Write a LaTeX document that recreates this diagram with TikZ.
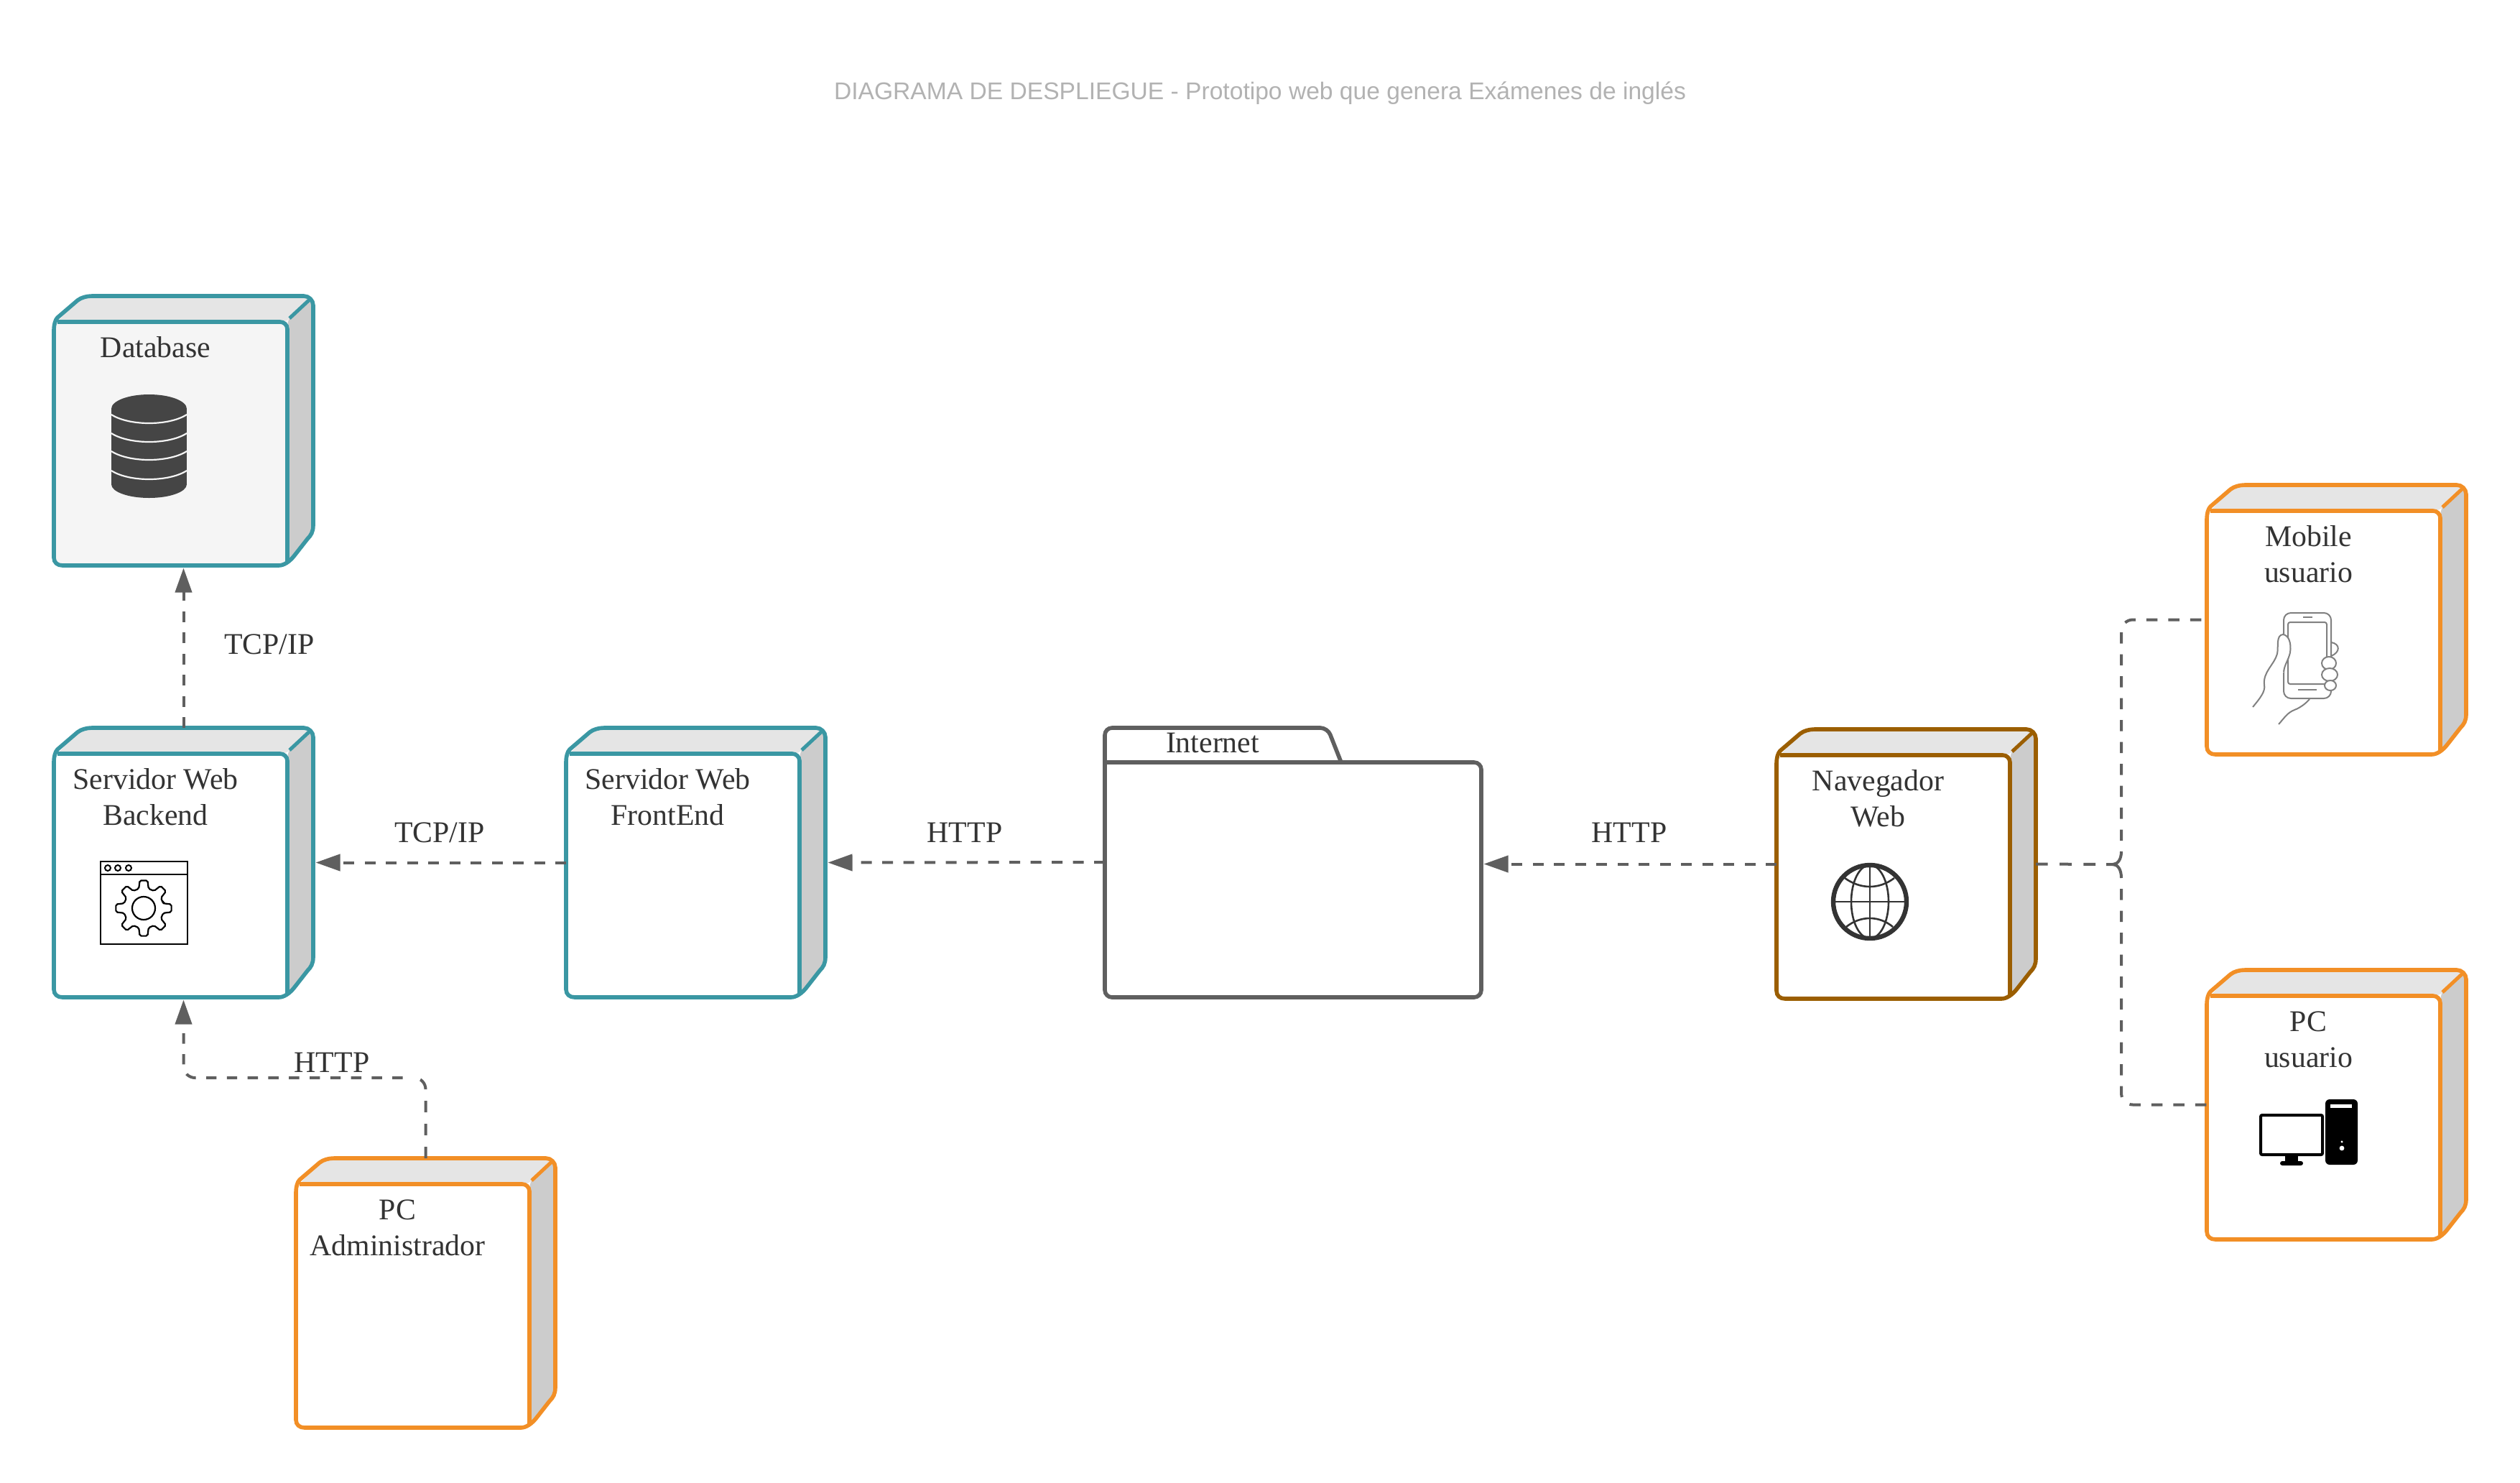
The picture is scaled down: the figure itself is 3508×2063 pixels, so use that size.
\documentclass[tikz,border=0pt]{standalone}
\usepackage{fontspec}
\setmainfont{Liberation Serif}
\newfontfamily\titlefont{Liberation Sans}
\usetikzlibrary{arrows.meta}
\definecolor{tealline}{HTML}{3A97A3}
\definecolor{orangeline}{HTML}{F28F26}
\definecolor{brownline}{HTML}{9B5E00}
\definecolor{greyline}{HTML}{5F5F5F}
\tikzset{
  boxframe/.style={minimum width=180.5pt,minimum height=187.5pt,inner sep=0,outer sep=0},
  boxtext/.style={anchor=north,align=center,inner sep=0,text=black!80,font=\fontsize{20.9}{25}\selectfont},
  linktext/.style={anchor=base,inner sep=0,text=black!80,font=\fontsize{20.9}{25}\selectfont},
  link/.style={draw=greyline,line width=2pt,dash pattern=on 7.5pt off 7.25pt},
  arrowlink/.style={link,-{Triangle[length=17pt,width=11.5pt]},shorten >=1.75pt},
  forklink/.style={draw=greyline,line width=2pt,dash pattern=on 8.3pt off 8.3pt},
  branchlink/.style={draw=greyline,line width=2pt,dash pattern=on 7.75pt off 7.5pt,dash phase=7.75pt,rounded corners=8pt},
}
% left, top of the whole box in pixels
\newcommand\cubebox[6]{%
  \begin{scope}[shift={(#2,#3)}]
    \node[boxframe] (#1) at (180.5,187.5) {};
    \path[fill=#5] (0,47) .. controls (0,40) and (2,33) .. (5,30) -- (33,6)
      .. controls (38,2) and (46,0) .. (53,0) -- (348,0)
      .. controls (355,0) and (361,6) .. (361,13) -- (361,319)
      .. controls (361,328) and (358,333) .. (353,338) -- (335,361)
      .. controls (328,370) and (320,375) .. (313,375) -- (12,375)
      .. controls (5,375) and (0,371) .. (0,364) -- cycle;
    \path[fill=black!10] (5,36) -- (33,6) .. controls (38,2) and (46,0) .. (53,0) -- (348,0)
      .. controls (352,0) and (355,2) .. (357,4) -- (328,31) .. controls (324,35) and (320,36) .. (315,36) -- cycle;
    \path[fill=black!20] (357,4) .. controls (360,6) and (361,9) .. (361,13) -- (361,319)
      .. controls (361,328) and (358,333) .. (353,338) -- (335,361)
      .. controls (332,365) and (329,368) .. (325,371) -- (325,46)
      .. controls (325,40) and (326,34) .. (328,31) -- cycle;
    \draw[#4,line width=2.8pt] (0,47) .. controls (0,40) and (2,33) .. (5,30) -- (33,6)
      .. controls (38,2) and (46,0) .. (53,0) -- (348,0)
      .. controls (355,0) and (361,6) .. (361,13) -- (361,319)
      .. controls (361,328) and (358,333) .. (353,338) -- (335,361)
      .. controls (328,370) and (320,375) .. (313,375) -- (12,375)
      .. controls (5,375) and (0,371) .. (0,364) -- cycle;
    \draw[#4,line width=2.8pt] (5,36) -- (315,36) .. controls (320,36) and (325,40) .. (325,46) -- (325,371);
    \draw[#4,line width=2.5pt] (328,31) -- (357,4);
    \node[boxtext] (#1text) at (141.5,50.5) {\strut #6};
  \end{scope}
}

\begin{document}
\begin{tikzpicture}[x=0.5pt,y=-0.5pt]
  \useasboundingbox[fill=white] (0,0) rectangle (3508,2063);

  \node[text=black!30,inner sep=0,font=\titlefont\fontsize{16.8}{20}\selectfont] (title) at (1754,130)
    {DIAGRAMA DE DESPLIEGUE - Prototipo web que genera Exámenes de inglés};

  % The boxes
  \cubebox{database}{75}{412}{tealline}{black!4}{Database};
  \cubebox{backend}{75}{1013}{tealline}{white}{Servidor Web\\Backend};
  \cubebox{frontend}{788}{1013}{tealline}{white}{Servidor Web\\FrontEnd};
  \cubebox{pcadmin}{412}{1612}{orangeline}{white}{PC\\Administrador};
  \cubebox{navweb}{2473}{1015}{brownline}{white}{Navegador\\Web};
  \cubebox{mobile}{3072}{675}{orangeline}{white}{Mobile\\usuario};
  \cubebox{pcuser}{3072}{1350}{orangeline}{white}{PC\\usuario};

  % The folder
  \node[minimum width=262pt,minimum height=188pt,inner sep=0,outer sep=0] (internet) at (1800,1200) {};
  \draw[greyline,line width=2.8pt,rounded corners=5pt] (1538,1061) -- (1538,1013) -- (1848,1013) -- (1867,1061);
  \draw[greyline,line width=2.8pt,rounded corners=5pt] (1538,1061) -- (2062,1061) -- (2062,1388) -- (1538,1388) -- (1538,1061);
  \node[linktext] (internettext) at (1688,1047) {Internet};

  % The connectors
  \draw[arrowlink] (backend.north) -- (database.south);
  \draw[arrowlink] (frontend.west) -- (backend.east);
  \draw[arrowlink] (internet.west) -- (frontend.east);
  \draw[arrowlink] (navweb.west) -- (internet.east |- navweb.west);
  \coordinate (adminbend) at (575,1500);
  \draw[link,dash pattern=on 8pt off 8pt,rounded corners=8pt] (pcadmin.north) |- (adminbend);
  \draw[arrowlink,dash pattern=on 7.2pt off 7.2pt,dash phase=7.2pt,rounded corners=8pt] (adminbend) -| (backend.south);

  % The fork to the two user boxes
  \coordinate (forkin) at (2932,1203);
  \coordinate (forkup) at (2953,1185);
  \coordinate (forkdown) at (2953,1222);
  \draw[forklink] (navweb.east) -- (forkin);
  \draw[greyline,line width=2pt] (forkup) .. controls (2953,1196) and (2948,1203) .. (2941,1203) -- (forkin);
  \draw[greyline,line width=2pt] (forkdown) .. controls (2953,1210) and (2948,1203) .. (2941,1203);
  \draw[branchlink] (forkup) |- (mobile.west);
  \draw[branchlink] (forkdown) |- (pcuser.west);

  \node[linktext] (tcpdb) at (375,910) {TCP/IP};
  \node[linktext] (tcpback) at (612,1172) {TCP/IP};
  \node[linktext] (httpfront) at (1343,1172) {HTTP};
  \node[linktext] (httpnet) at (2268,1172) {HTTP};
  \node[linktext] (httpadmin) at (462,1492) {HTTP};

  % Database icon
  \fill[black!73] (155,568) rectangle (260,674);
  \fill[black!73] (207.5,569) ellipse[x radius=52.5,y radius=20];
  \fill[black!73] (207.5,674) ellipse[x radius=52.5,y radius=19];
  \foreach \ypos in {577,603,628,655} {
    \draw[black!4,line width=1.1pt] (155,\ypos) .. controls +(25,16) and +(-25,16) .. (260,\ypos);
  }

  % Gear window icon
  \draw[black,line width=1.3pt] (140,1199) rectangle (261,1314) (140,1217) -- (261,1217);
  \foreach \xpos in {150,164,179} {
    \draw[black,line width=1pt] (\xpos,1208) circle[radius=4];
  }
  \begin{scope}[shift={(200,1264)}]
    \draw[black,line width=1.1pt,rounded corners=1pt] (-14:28) \foreach \a in {0,45,...,315} { -- (\a-14:28) -- (\a-8:39) -- (\a+8:39) -- (\a+14:28)} -- cycle;
    \draw[black,line width=1.1pt] (0,0) circle[radius=16];
  \end{scope}

  % Globe icon
  \begin{scope}[black!80,line width=1.3pt]
    \draw[line width=3.2pt] (2603,1255) circle[radius=51];
    \draw (2603,1204) -- (2603,1306) (2552,1255) -- (2654,1255);
    \draw (2603,1255) ellipse[x radius=26,y radius=51];
    \draw (2568,1222) .. controls (2590,1238) and (2616,1238) .. (2637,1222);
    \draw (2570,1290) .. controls (2590,1274) and (2616,1274) .. (2635,1290);
  \end{scope}

  % Phone icon
  \begin{scope}[black!50,line width=1pt]
    \draw[rounded corners=5pt] (3179,853) rectangle (3245,972);
    \draw[rounded corners=1.5pt] (3185,866) rectangle (3239,952);
    \draw (3206,859) -- (3219,859) (3199,960) -- (3225,960);
    \draw[fill=white] (3136,984) .. controls (3146,972) and (3154,962) .. (3152,953)
      .. controls (3150,935) and (3166,925) .. (3170,910) .. controls (3172,900) and (3168,884) .. (3178,883)
      .. controls (3186,884) and (3190,895) .. (3188,908) .. controls (3186,918) and (3180,925) .. (3179,935);
    \draw (3172,1008) .. controls (3180,999) and (3184,992) .. (3194,988) .. controls (3202,985) and (3210,979) .. (3215,973);
    \draw (3245,894) .. controls (3258,896) and (3258,908) .. (3245,913);
    \draw[fill=white] (3242,923) ellipse[x radius=10,y radius=9];
    \draw[fill=white] (3243,939) ellipse[x radius=11,y radius=9];
    \draw[fill=white] (3244,954) ellipse[x radius=8,y radius=7];
  \end{scope}

  % Computer icon
  \draw[black,line width=2pt,rounded corners=1pt] (3147,1552) rectangle (3233,1607);
  \fill[black] (3181,1607) rectangle (3199,1617);
  \fill[black,rounded corners=1.5pt] (3174,1616) rectangle (3206,1622);
  \fill[black,rounded corners=3pt] (3237,1530) rectangle (3282,1621);
  \fill[white] (3244,1537) rectangle (3274,1542);
  \fill[white] (3260,1589) circle[radius=1.7];
  \fill[white] (3260,1598) circle[radius=3.4];
\end{tikzpicture}
\end{document}
